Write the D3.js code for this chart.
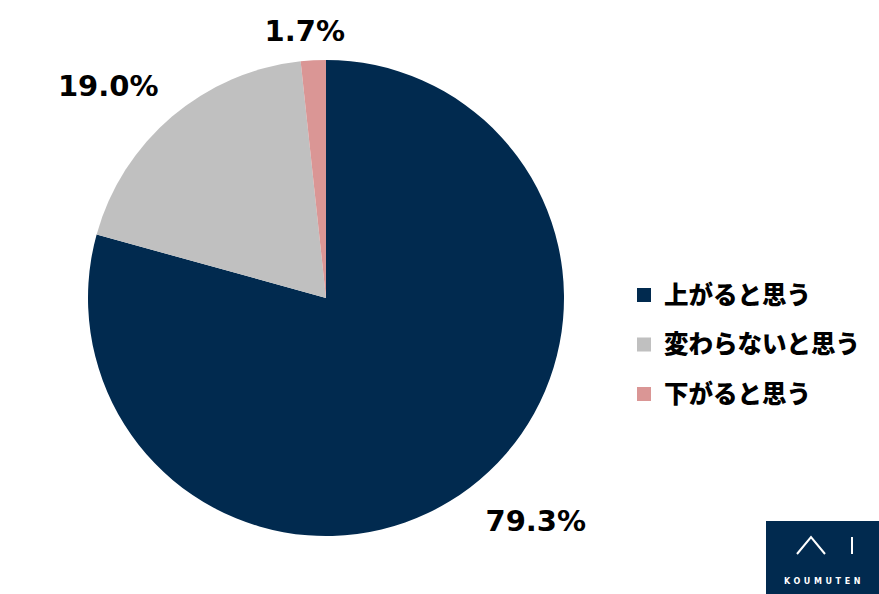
<!DOCTYPE html>
<html><head><meta charset="utf-8">
<script src="https://cdn.jsdelivr.net/npm/d3@7"></script>
<style>body{margin:0;background:#fff}</style>
</head><body>
<script>
const categories = ["上がると思う", "変わらないと思う", "下がると思う"];
const values = [79.3, 19.0, 1.7];
const labels = ["79.3%", "19.0%", "1.7%"];
const colors = ["#012a4f", "#c0c0c0", "#da9695"];

const W = 879, H = 594;
const svg = d3.select("body").append("svg").attr("width", W).attr("height", H);
const cx = 326, cy = 298, R = 238;

const pie = d3.pie().sort(null).value(d => d);
const arcs = pie(values);
const arc = d3.arc().innerRadius(0).outerRadius(R);
const g = svg.append("g").attr("transform", `translate(${cx},${cy})`);
g.selectAll("path").data(arcs).join("path")
  .attr("d", arc).attr("fill", (d, i) => colors[i]);

const labelR = [306, 304, 268];
const angleShift = [-0.105, -0.095, -0.026];
g.selectAll("text").data(arcs).join("text")
  .attr("transform", (d, i) => {
    const a = (d.startAngle + d.endAngle) / 2 + angleShift[i];
    return `translate(${Math.sin(a) * labelR[i]},${-Math.cos(a) * labelR[i]})`;
  })
  .attr("text-anchor", "middle").attr("dy", "0.36em")
  .attr("font-family", "DejaVu Sans, Verdana, sans-serif").attr("font-weight", "bold")
  .attr("font-size", 29).attr("fill", "#000")
  .text((d, i) => labels[i]);

// legend
const lg = svg.append("g").attr("transform", "translate(637,295)");
const row = lg.selectAll("g").data(categories).join("g")
  .attr("transform", (d, i) => `translate(0,${i * 49.5})`);
row.append("rect").attr("x", 0).attr("y", -7).attr("width", 14).attr("height", 14)
  .attr("fill", (d, i) => colors[i]);
row.append("text").attr("x", 27).attr("dy", "0.36em")
  .attr("font-family", "Noto Sans CJK JP, sans-serif").attr("font-weight", 900)
  .attr("font-size", 24.5).attr("fill", "#000").text(d => d);

// logo
const logo = svg.append("g");
logo.append("rect").attr("x", 766).attr("y", 521).attr("width", 113).attr("height", 73).attr("fill", "#012a4f");
logo.append("path").attr("d", "M797,554 L811,537 L825,554").attr("fill", "none").attr("stroke", "#fff").attr("stroke-width", 2);
logo.append("line").attr("x1", 852).attr("x2", 852).attr("y1", 537).attr("y2", 554).attr("stroke", "#fff").attr("stroke-width", 2);
logo.append("text").attr("x", 824).attr("y", 584).attr("text-anchor", "middle")
  .attr("font-family", "DejaVu Sans, sans-serif").attr("font-weight", "bold")
  .attr("font-size", 8).attr("letter-spacing", 3.6).attr("fill", "#fff").text("KOUMUTEN");
</script>
</body></html>
